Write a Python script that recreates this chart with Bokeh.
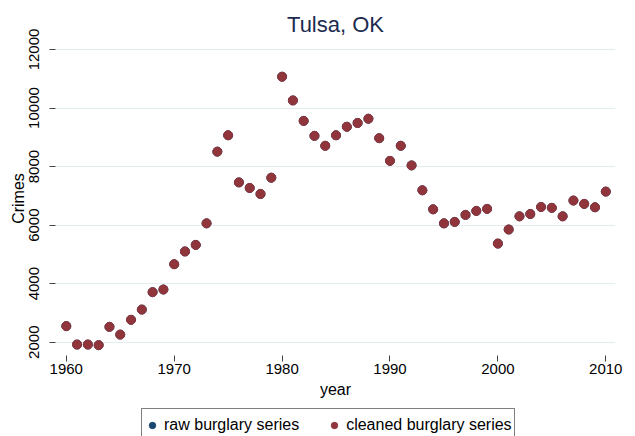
from bokeh.plotting import figure
from bokeh.layouts import column
from bokeh.models import Range1d, Legend, LegendItem, FixedTicker
from bokeh.embed import file_html
from bokeh.resources import INLINE

years = list(range(1960, 2011))
cleaned_burglary = [2550, 1920, 1920, 1900, 2525, 2260, 2765, 3115, 3710, 3800,
                    4665, 5100, 5325, 6060, 8510, 9070, 7460, 7270, 7065, 7620,
                    11070, 10260, 9560, 9050, 8710, 9070, 9360, 9490, 9635, 8970,
                    8195, 8710, 8040, 7190, 6540, 6060, 6110, 6350, 6485, 6555,
                    5370, 5850, 6300, 6380, 6620, 6590, 6300, 6840, 6725, 6610, 7145]
raw_burglary = list(cleaned_burglary)
x_ticks = [1960, 1970, 1980, 1990, 2000, 2010]
y_ticks = [2000, 4000, 6000, 8000, 10000, 12000]

FONT = "Liberation Sans"
RAW_COLOR = "#1a476f"
CLEAN_COLOR = "#90353b"

p = figure(width=635, height=407, output_backend="svg", toolbar_location=None,
           x_range=Range1d(1959.0, 2010.9), y_range=Range1d(1546, 12273),
           min_border_left=55, min_border_right=20, min_border_top=41,
           min_border_bottom=52, title="Tulsa, OK")
p.outline_line_color = None
p.background_fill_color = "white"
p.border_fill_color = "white"

p.title.align = "center"
p.title.text_font = FONT
p.title.text_font_size = "22px"
p.title.text_font_style = "normal"
p.title.text_color = "#1c2b4e"
p.title.standoff = 10

p.scatter(years, raw_burglary, size=9, color=RAW_COLOR)
p.scatter(years, cleaned_burglary, size=9, color=CLEAN_COLOR)

p.xgrid.grid_line_color = None
p.ygrid.grid_line_color = "#e3ecef"
p.ygrid.grid_line_width = 1.2

p.xaxis.ticker = FixedTicker(ticks=x_ticks)
p.yaxis.ticker = FixedTicker(ticks=y_ticks)
for ax in (p.xaxis[0], p.yaxis[0]):
    ax.axis_line_color = None
    ax.major_tick_in = 0
    ax.major_tick_out = 6
    ax.major_tick_line_color = "#444444"
    ax.minor_tick_line_color = None
    ax.major_label_text_font = FONT
    ax.major_label_text_font_size = "15px"
    ax.major_label_text_color = "black"
    ax.axis_label_text_font = FONT
    ax.axis_label_text_font_size = "16px"
    ax.axis_label_text_font_style = "normal"
    ax.axis_label_text_color = "black"

p.xaxis.axis_label = "year"
p.xaxis.major_label_standoff = 2
p.xaxis.axis_label_standoff = 4
p.yaxis.axis_label = "Crimes"
p.yaxis.major_label_orientation = "vertical"
p.yaxis.major_label_standoff = 10
p.yaxis.axis_label_standoff = 0

# legend strip below the chart (same series, points fall outside its range)
q = figure(width=635, height=29, output_backend="svg", toolbar_location=None,
           x_range=Range1d(0, 1), y_range=Range1d(0, 1),
           x_axis_location=None, y_axis_location=None, min_border=0)
q.outline_line_color = None
q.grid.visible = False
q.background_fill_color = "white"
q.border_fill_color = "white"
q_raw = q.scatter(years, raw_burglary, size=9, color=RAW_COLOR)
q_clean = q.scatter(years, cleaned_burglary, size=9, color=CLEAN_COLOR)

legend = Legend(items=[LegendItem(label="raw burglary series", renderers=[q_raw]),
                       LegendItem(label="cleaned burglary series", renderers=[q_clean])],
                orientation="horizontal", location=(86, -6),
                padding=2, spacing=27, glyph_width=16, glyph_height=16,
                label_height=28, label_standoff=4,
                label_text_font=FONT, label_text_font_size="16px",
                label_text_color="black",
                border_line_color="black", border_line_width=1,
                background_fill_color="white", background_fill_alpha=1.0)
q.add_layout(legend, "center")

layout = column(p, q, spacing=0)
open("out.html", "w").write(file_html(layout, INLINE))
